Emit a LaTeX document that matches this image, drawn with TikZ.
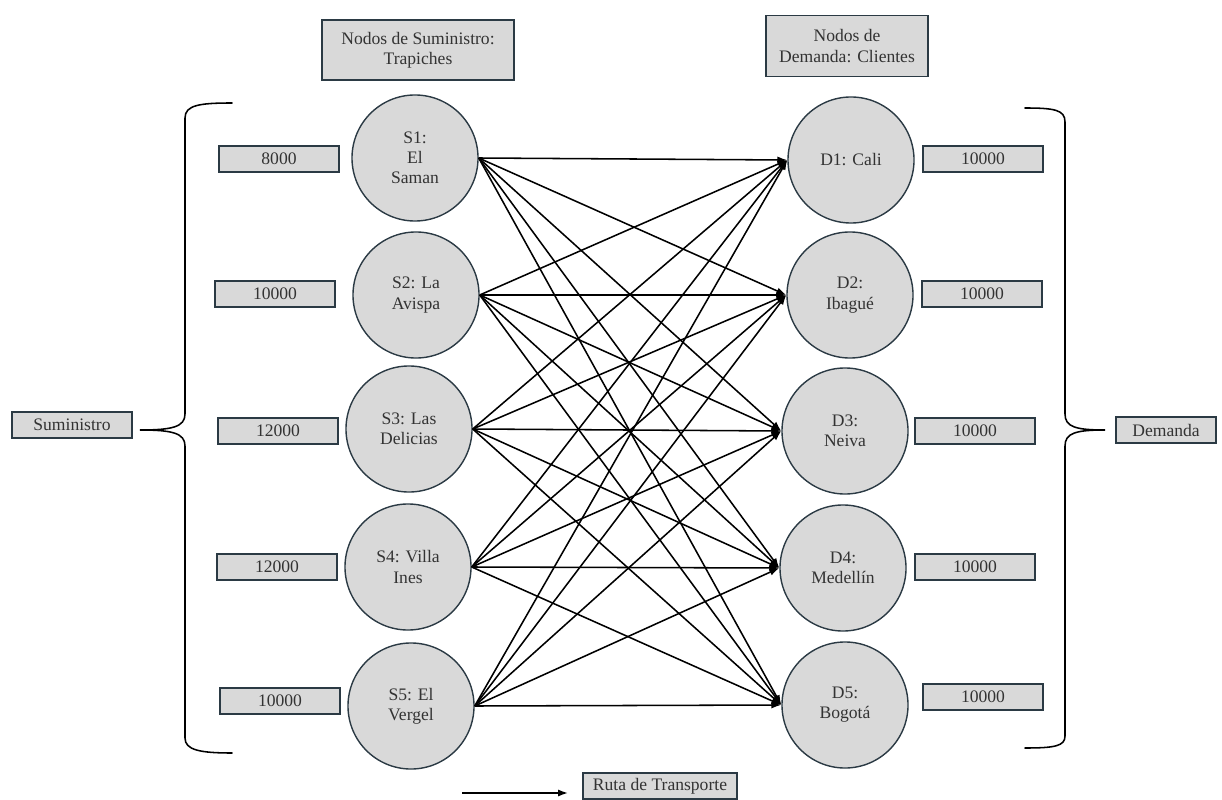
\documentclass[tikz,border=0pt]{standalone}
\usepackage{fontspec}
\setmainfont{Liberation Serif}
\newfontfamily\timesfont{Liberation Serif}
\usetikzlibrary{shapes,arrows,arrows.meta,positioning,calc}
\definecolor{nodegray}{HTML}{D9D9D9}
\definecolor{darkslate}{HTML}{2B3A44}
\definecolor{textgray}{HTML}{333333}

\tikzset{
  trapiche/.style={circle,draw=darkslate,fill=nodegray,line width=1pt,
    minimum size=3.15cm,inner sep=0pt,align=center,text=textgray},
  valuebox/.style={rectangle,draw=darkslate,fill=nodegray,line width=1.3pt,
    minimum width=3cm,minimum height=0.65cm,inner sep=0pt,align=center,text=textgray},
  ruta/.style={-{Latex[length=7pt,width=5pt]},line width=1.1pt},
  llave/.style={line width=1.1pt,line cap=round}
}

\begin{document}
\begin{tikzpicture}[x=0.025cm,y=-0.025cm,font=\timesfont\fontsize{12.5}{14.4}\selectfont]
  \useasboundingbox (0,0) rectangle (1222,800);

  % Headers
  \node[valuebox,minimum width=4.8cm,minimum height=1.5cm] (hsum) at (418,50) {Nodos de Suministro:\\Trapiches};
  \node[valuebox,minimum width=4.03cm,minimum height=1.525cm] (hdem) at (847,46) {Nodos de\\Demanda: Clientes};

  % Supply nodes
  \foreach \i/\x/\y/\txt in {1/415/158/{S1:\\El\\Saman}, 2/416/295/{S2: La\\Avispa},
      3/409/429/{S3: Las\\Delicias}, 4/408/567/{S4: Villa\\Ines}, 5/411/706/{S5: El\\Vergel}} {
    \node[trapiche] (s\i) at (\x,\y) {\txt};
  }

  % Demand nodes
  \foreach \i/\x/\y/\txt in {1/851/160/{D1: Cali}, 2/850/295/{D2:\\Ibagué},
      3/845/431/{D3:\\Neiva}, 4/843/568/{D4:\\Medellín}, 5/845/705/{D5:\\Bogotá}} {
    \node[trapiche] (d\i) at (\x,\y) {\txt};
  }

  % Supply values
  \foreach \i/\x/\y/\val in {1/279/159/8000, 2/275/294/10000, 3/278/431/12000,
      4/277/567/12000, 5/280/701/10000} {
    \node[valuebox] (vs\i) at (\x,\y) {\val};
  }

  % Demand values
  \foreach \i/\x/\y/\val in {1/983/159/10000, 2/982/294/10000, 3/975/431/10000,
      4/975/567/10000, 5/983/697/10000} {
    \node[valuebox] (vd\i) at (\x,\y) {\val};
  }

  % Routes
  \foreach \i in {1,...,5} {
    \foreach \j in {1,...,5} {
      \draw[ruta] (s\i.east) -- (d\j.west);
    }
  }

  % Braces
  \node[valuebox] (sumin) at (72,425) {Suministro};
  \draw[llave] (232,103) .. controls (200,103) and (185,105) .. (185,118) -- (185,414)
    .. controls (185,427) and (172,430) .. (140,430)
    .. controls (172,430) and (185,433) .. (185,446) -- (185,738)
    .. controls (185,750) and (200,753) .. (232,753);
  \node[valuebox,minimum width=2.48cm] (deman) at (1166,430) {Demanda};
  \draw[llave] (1025,108) .. controls (1055,108) and (1065,110) .. (1065,122) -- (1065,414)
    .. controls (1065,427) and (1076,430) .. (1105,430)
    .. controls (1076,430) and (1065,433) .. (1065,446) -- (1065,736)
    .. controls (1065,746) and (1055,748) .. (1025,748);

  % Legend
  \coordinate (leg0) at (462,793);
  \coordinate (leg1) at (568,793);
  \draw[ruta] (leg0) -- (leg1);
  \node[valuebox,minimum width=3.85cm] (leyenda) at (660,786) {Ruta de Transporte};
\end{tikzpicture}
\end{document}
